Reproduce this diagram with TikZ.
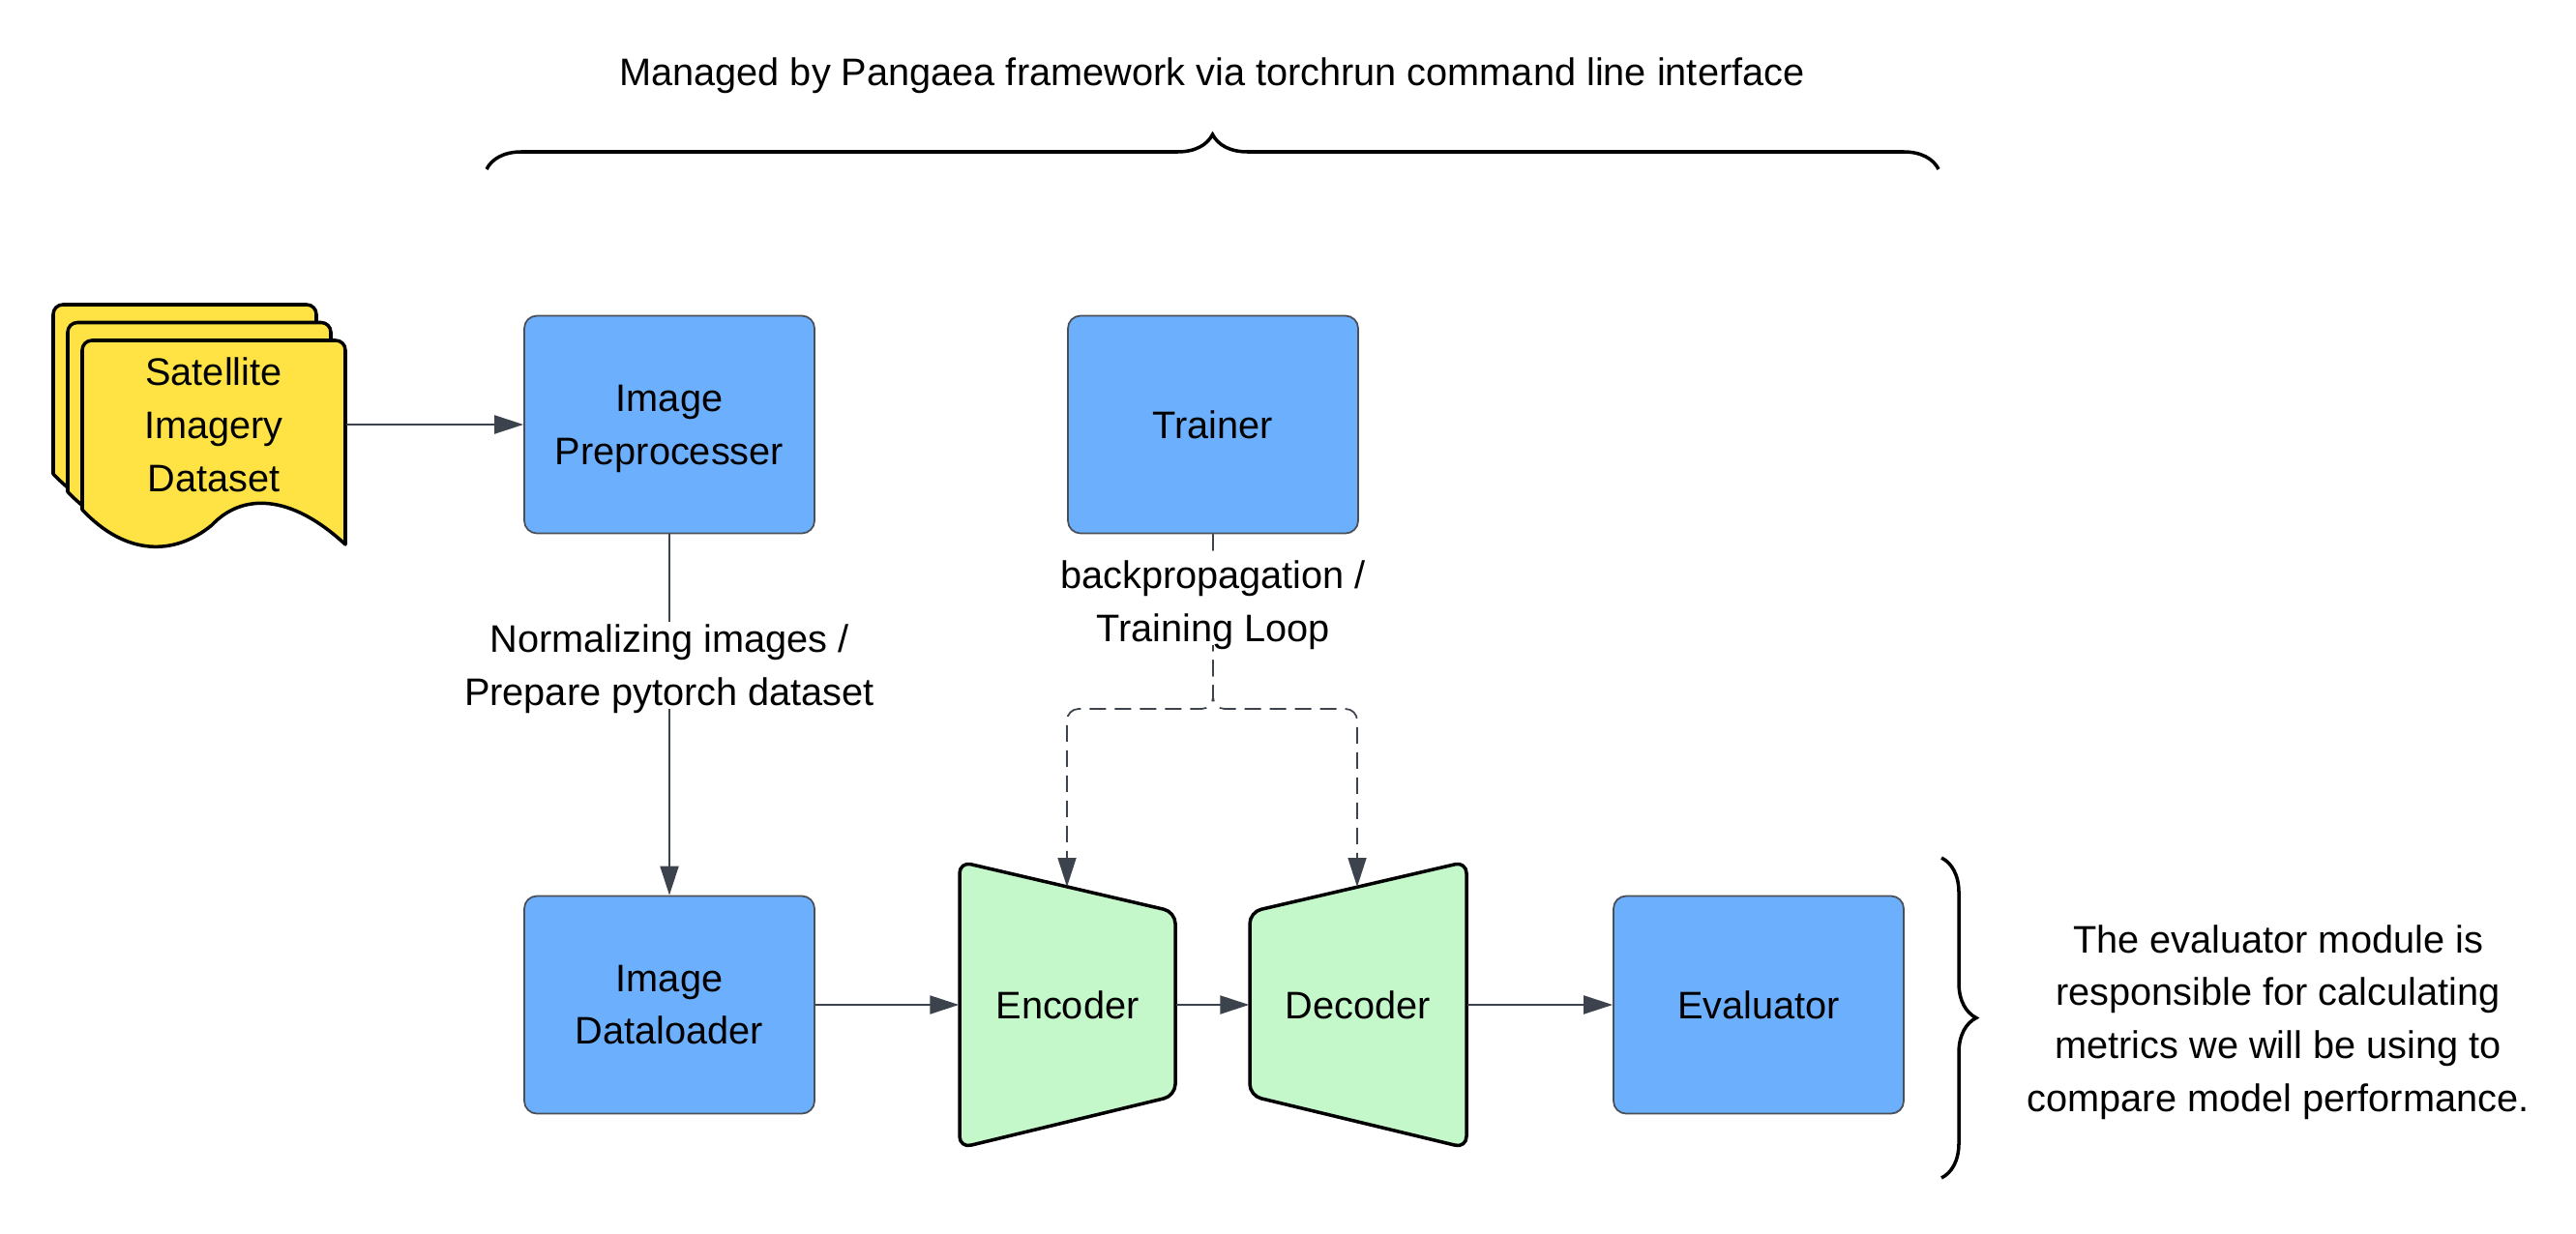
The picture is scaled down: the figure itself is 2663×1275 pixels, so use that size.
\documentclass[tikz,border=0pt]{standalone}
\usepackage{fontspec}
\setmainfont{Liberation Sans}
\usetikzlibrary{arrows.meta,decorations.pathreplacing}

\definecolor{boxblue}{HTML}{6CAFFD}
\definecolor{boxedge}{HTML}{4A4F57}
\definecolor{netgreen}{HTML}{C4F7C9}
\definecolor{docyellow}{HTML}{FFE345}
\definecolor{linegray}{HTML}{3D434D}

\begin{document}
\begin{tikzpicture}[x=0.1mm, y=-0.1mm,
	every node/.style={font=\fontsize{11.3}{15.6}\selectfont, align=center},
	module/.style={draw=boxedge, line width=0.5pt, fill=boxblue, rounded corners=1.3mm, minimum width=30mm, minimum height=22.5mm},
	netpart/.style={draw=black, line width=1pt, fill=netgreen, rounded corners=1.2mm, line join=round},
	docsheet/.style={draw=black, line width=1pt, fill=docyellow, line join=round},
	flow/.style={draw=linegray, line width=0.6pt, -{Triangle[length=3mm, width=1.9mm]}},
	loop/.style={flow, line width=0.5pt, dash pattern=on 1.7mm off 0.9mm, rounded corners=1.2mm},
	lbl/.style={fill=white, inner sep=1pt, text depth=0pt},
	curly/.style={draw=black, line width=1pt, decorate, decoration={brace, amplitude=3.6mm}}]

\useasboundingbox (0,0) rectangle (2663,1275);

% Offset between the stacked sheets
\def\sheetdx{15}
\def\sheetdy{18.5}

% Stacked dataset sheets (back to front)
\foreach \d in {2,1,0} {
	\begin{scope}[shift={({-\sheetdx*\d},{-\sheetdy*\d})}]
		\draw[docsheet] (85,527) [rounded corners=1mm] -- (85,352) -- (357,352) [sharp corners] -- (357,563)
			.. controls (300,510) and (250,510) .. (219,543)
			.. controls (180,575) and (130,575) .. (85,527) -- cycle;
	\end{scope}
}
\node[minimum width=27.2mm] (data) at (221,439) {Satellite\\Imagery\\Dataset};

% Blue modules
\node[module, text depth=0pt] (prep) at (692,439) {Image\\Preprocesser};
\node[module] (trainer) at (1254,439) {Trainer};
\node[module] (loader) at (692,1039) {Image\\Dataloader};
\node[module] (eval) at (1818,1039) {Evaluator};

% Encoder and decoder
\draw[netpart] (992,891) -- (1215,943) -- (1215,1133) -- (992,1187) -- cycle;
\draw[netpart] (1292,943) -- (1516,891) -- (1516,1187) -- (1292,1133) -- cycle;
\node[minimum width=22.3mm, minimum height=29.6mm] (enc) at (1103.5,1039) {Encoder};
\node[minimum width=22.4mm, minimum height=29.6mm] (dec) at (1404,1039) {Decoder};
\coordinate (enctop) at (1103,917);
\coordinate (dectop) at (1403,917);
\coordinate (split) at (1254,733);

% Solid arrows
\draw[flow] (data.east) -- (prep.west);
\draw[flow] (prep.south) -- (loader.north);
\draw[flow] (loader.east) -- (enc.west);
\draw[flow] (enc.east) -- (dec.west);
\draw[flow] (dec.east) -- (eval.west);

% Dashed training loop
\draw[loop] (trainer.south) -- (split) -| (enctop);
\draw[loop] (trainer.south) -- (split) -| (dectop);

% Labels on the connectors
\node[lbl] (normlbl) at (692,688) {Normalizing images /\\Prepare pytorch dataset};
\node[lbl] (bplbl) at (1254,622) {backpropagation /\\Training Loop};

% Braces and notes
\node (title) at (1253,78) {Managed by Pangaea framework via torchrun command line interface};
\draw[curly] (503,175) -- (2004,175);
\draw[curly] (2007,887) -- (2007,1218);
\node[text depth=0pt] (evalnote) at (2355,1053) {The evaluator module is\\responsible for calculating\\metrics we will be using to\\compare model performance.};

\end{tikzpicture}
\end{document}
